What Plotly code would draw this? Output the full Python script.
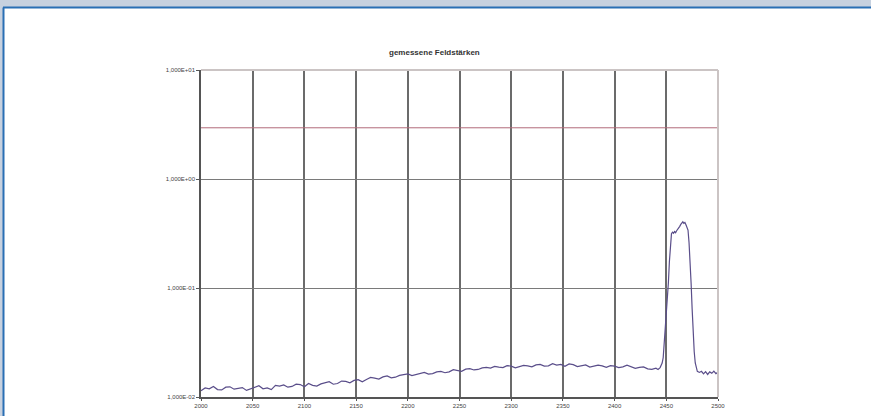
import plotly.graph_objects as go

# ---- data ----
base_x = list(range(2000, 2441, 4))
base_y = [
    0.0114, 0.0121, 0.0119, 0.0125, 0.0117, 0.0116, 0.0123, 0.0124, 0.0118, 0.0120,
    0.0122, 0.0115, 0.0119, 0.0124, 0.0127, 0.0119, 0.0121, 0.0117, 0.0128, 0.0126,
    0.0129, 0.0123, 0.0125, 0.0131, 0.0130, 0.0124, 0.0133, 0.0128, 0.0126, 0.0132,
    0.0134, 0.0138, 0.0131, 0.0133, 0.0140, 0.0139, 0.0135, 0.0142, 0.0144, 0.0138,
    0.0145, 0.0151, 0.0149, 0.0146, 0.0153, 0.0156, 0.0150, 0.0152, 0.0158, 0.0160,
    0.0163, 0.0157, 0.0161, 0.0165, 0.0168, 0.0162, 0.0164, 0.0170, 0.0172, 0.0167,
    0.0170, 0.0178, 0.0175, 0.0172, 0.0180, 0.0182, 0.0177, 0.0179, 0.0185, 0.0187,
    0.0184, 0.0191, 0.0188, 0.0186, 0.0194, 0.0192, 0.0185, 0.0189, 0.0195, 0.0193,
    0.0189, 0.0197, 0.0199, 0.0192, 0.0193, 0.0202, 0.0196, 0.0199, 0.0191, 0.0201,
    0.0198, 0.0190, 0.0194, 0.0197, 0.0188, 0.0191, 0.0196, 0.0193, 0.0187, 0.0194,
    0.0192, 0.0186, 0.0189, 0.0196, 0.0190, 0.0183, 0.0187, 0.0189, 0.0181, 0.0179,
    0.0184,
]
peak_x = [2442, 2444, 2446, 2447, 2448, 2449, 2450, 2451, 2452, 2453, 2454, 2455,
          2456, 2457, 2458, 2459, 2460, 2461, 2462, 2463, 2464, 2465, 2466, 2467,
          2468, 2469, 2470, 2471, 2472, 2473, 2474, 2475, 2476, 2477, 2478, 2479, 2480]
peak_y = [0.0179, 0.0186, 0.0205, 0.0230, 0.0318, 0.040, 0.051, 0.080, 0.111, 0.175,
          0.255, 0.315, 0.325, 0.318, 0.330, 0.322, 0.335, 0.344, 0.356, 0.368,
          0.383, 0.398, 0.405, 0.392, 0.399, 0.380, 0.365, 0.340, 0.260, 0.185,
          0.110, 0.064, 0.038, 0.026, 0.0205, 0.0180, 0.0172]
tail_x = list(range(2482, 2501, 2))
tail_y = [0.0168, 0.0172, 0.0163, 0.0171, 0.0161, 0.0170, 0.0165, 0.0173, 0.0164, 0.0169]

freq = base_x + peak_x + tail_x
field = base_y + peak_y + tail_y

limit_x = [2000, 2500]
limit_y = [2.95, 2.95]

x_ticks = list(range(2000, 2501, 50))
y_tickvals = [10, 1, 0.1, 0.01]
y_ticktext = ["1,000E+01", "1,000E+00", "1,000E-01", "1,000E-02"]
title = "gemessene Feldstärken"

# ---- figure ----
fig = go.Figure()
fig.add_trace(go.Scatter(x=limit_x, y=limit_y, mode="lines",
                         line=dict(color="#b26a7a", width=1), hoverinfo="skip"))
fig.add_trace(go.Scatter(x=freq, y=field, mode="lines",
                         line=dict(color="#5a4e8a", width=1.2)))

L, R, T, B = 201, 153, 70, 19
W, H = 871 - L - R, 416 - T - B

def px(xp):
    return (xp - L) / W

def py(yp):
    return (416 - B - yp) / H

shapes = [
    # frame
    dict(type="rect", xref="paper", yref="paper", x0=px(0), x1=px(871), y0=py(7), y1=py(0),
         fillcolor="#c7d1df", line=dict(width=0), layer="above"),
    dict(type="rect", xref="paper", yref="paper", x0=px(0), x1=px(3), y0=py(416), y1=py(7),
         fillcolor="#c7d1df", line=dict(width=0), layer="above"),
    dict(type="line", xref="paper", yref="paper", x0=px(3), x1=px(871), y0=py(7.5), y1=py(7.5),
         line=dict(color="#2a6fb4", width=2), layer="above"),
    dict(type="line", xref="paper", yref="paper", x0=px(3.5), x1=px(3.5), y0=py(416), y1=py(7.5),
         line=dict(color="#2a6fb4", width=2), layer="above"),
    # light top/right plot border
    dict(type="line", xref="paper", yref="paper", x0=0, x1=1, y0=1, y1=1,
         line=dict(color="#cbc4c4", width=2), layer="above"),
    dict(type="line", xref="paper", yref="paper", x0=1, x1=1, y0=0, y1=1,
         line=dict(color="#cbc4c4", width=2), layer="above"),
]

fig.update_layout(
    width=871, height=416,
    margin=dict(l=L, r=R, t=T, b=B, autoexpand=False),
    paper_bgcolor="white", plot_bgcolor="white",
    showlegend=False,
    shapes=shapes,
    annotations=[dict(text="<b>" + title + "</b>", xref="paper", yref="paper",
                      x=px(434), y=py(46), showarrow=False,
                      font=dict(family="Liberation Sans", size=8, color="#333333"))],
    font=dict(family="Liberation Sans", size=6, color="#444444"),
)
fig.update_xaxes(range=[2000, 2500], tickvals=x_ticks, ticktext=[str(v) for v in x_ticks],
                 automargin=False,
                 showgrid=True, gridcolor="#6b6b6b", gridwidth=1.5,
                 showline=True, linecolor="#555555", linewidth=1.5,
                 ticks="outside", ticklen=2, tickcolor="#555555",
                 zeroline=False, tickfont=dict(size=6, color="#444444"))
fig.update_yaxes(type="log", range=[-2, 1], tickvals=y_tickvals, ticktext=y_ticktext,
                 automargin=False,
                 showgrid=True, gridcolor="#7a7a7a", gridwidth=1,
                 showline=True, linecolor="#555555", linewidth=1.5,
                 ticks="outside", ticklen=3, tickcolor="#555555",
                 zeroline=False, tickfont=dict(size=6, color="#444444"))

fig.write_html("out.html", config={"displayModeBar": False},
               post_script="document.body.style.margin='0px';document.body.style.overflow='hidden';")
